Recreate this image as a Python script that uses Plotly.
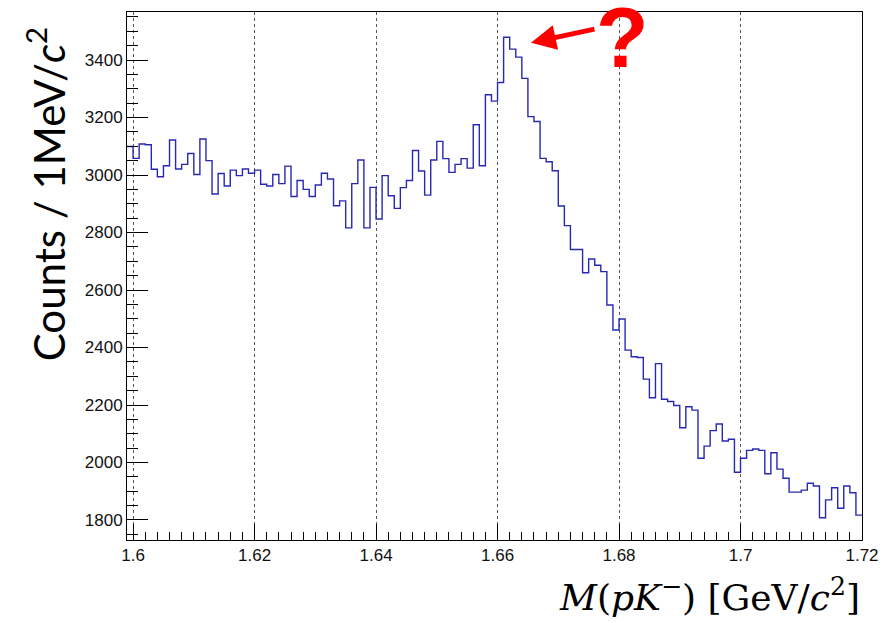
import numpy as np
import plotly.graph_objects as go

# ---- data ----
bin_lo = 1.599          # GeV/c^2, lower edge of first bin
bin_width = 0.001       # 1 MeV bins
counts = [
    3099, 3058, 3108, 3105, 3020, 2994, 3032, 3122, 3021, 3037,
    3075, 3002, 3125, 3050, 2934, 3005, 2962, 3017, 2998, 3021,
    3006, 3017, 2968, 2962, 3002, 2970, 3031, 2925, 2981, 2950,
    2925, 2965, 3006, 2986, 2893, 2910, 2816, 2970, 3052, 2816,
    2957, 2847, 2998, 2928, 2884, 2956, 2981, 3085, 3014, 2930,
    3052, 3117, 3057, 3009, 3037, 3057, 3024, 3175, 3032, 3279,
    3257, 3322, 3479, 3438, 3410, 3336, 3203, 3186, 3058, 3046,
    3015, 2892, 2824, 2741, 2741, 2660, 2708, 2686, 2664, 2548,
    2461, 2499, 2391, 2368, 2365, 2290, 2225, 2344, 2220, 2212,
    2198, 2121, 2194, 2182, 2015, 2057, 2111, 2134, 2075, 2081,
    1966, 2015, 2042, 2047, 2042, 1961, 2034, 1977, 1945, 1897,
    1897, 1904, 1928, 1918, 1808, 1870, 1912, 1841, 1918, 1895,
    1817,
]
x_tick_vals = [1.60, 1.62, 1.64, 1.66, 1.68, 1.70, 1.72]
x_tick_text = ["1.6", "1.62", "1.64", "1.66", "1.68", "1.7", "1.72"]
y_tick_vals = [1800, 2000, 2200, 2400, 2600, 2800, 3000, 3200, 3400]
y_tick_text = ["1800", "2000", "2200", "2400", "2600", "2800", "3000", "3200", "3400"]

# bin edges -> step outline
n = len(counts)
edges = bin_lo + bin_width * np.arange(n + 1)
xs = list(edges)
ys = list(counts) + [counts[-1]]

fig = go.Figure()
fig.add_trace(go.Scatter(
    x=xs, y=ys, mode="lines", line_shape="hv",
    line=dict(color="#2828B4", width=1.4),
    hoverinfo="skip", showlegend=False,
))

tickfont = dict(family="Liberation Sans, Arial, sans-serif", size=17, color="#111")

fig.update_xaxes(
    range=[edges[0], edges[-1]],
    tickvals=x_tick_vals, ticktext=x_tick_text,
    ticks="inside", ticklen=16, tickwidth=1, tickcolor="black",
    minor=dict(dtick=0.002, tick0=1.6, ticks="inside", ticklen=8,
               tickcolor="black", showgrid=False),
    showline=True, linecolor="black", linewidth=1, mirror=True,
    showgrid=True, gridcolor="#555", griddash="dot", gridwidth=1,
    zeroline=False, tickfont=tickfont,
)
fig.update_yaxes(
    range=[1730.4, 3567],
    tickvals=y_tick_vals, ticktext=y_tick_text,
    ticks="inside", ticklen=21, tickwidth=1, tickcolor="black",
    minor=dict(dtick=50, tick0=1800, ticks="inside", ticklen=11,
               tickcolor="black", showgrid=False),
    showline=True, linecolor="black", linewidth=1, mirror=True,
    showgrid=False, zeroline=False, tickfont=tickfont,
)

fig.update_layout(
    width=895, height=623, autosize=False,
    margin=dict(l=127, r=33, t=12, b=83),
    paper_bgcolor="white", plot_bgcolor="white",
    annotations=[
        dict(text="<i>M</i>(<i>pK</i><sup>−</sup>) [GeV/<i>c</i><sup>2</sup>]",
             xref="paper", yref="paper", x=1.0, y=-0.105,
             xanchor="right", yanchor="middle", showarrow=False,
             font=dict(family="DejaVu Serif, serif", size=36, color="black")),
        dict(text="Counts / 1MeV/<i>c</i><sup>2</sup>",
             xref="paper", yref="paper", x=-0.11, y=0.655,
             xanchor="center", yanchor="middle", textangle=-90, showarrow=False,
             font=dict(family="Lato, sans-serif", size=42, color="black")),
        dict(text="", x=1.6655, y=3460, xref="x", yref="y",
             ax=65, ay=-14, showarrow=True, arrowhead=2, arrowsize=1,
             arrowwidth=5, arrowcolor="#FF0000", standoff=0, startstandoff=0),
        dict(text="<b>?</b>", x=1.6805, y=3480, xref="x", yref="y",
             xanchor="center", yanchor="middle", showarrow=False,
             font=dict(family="Liberation Sans, Arial, sans-serif", size=86,
                       color="#FF0000")),
    ],
)

fig.write_html("out.html")
